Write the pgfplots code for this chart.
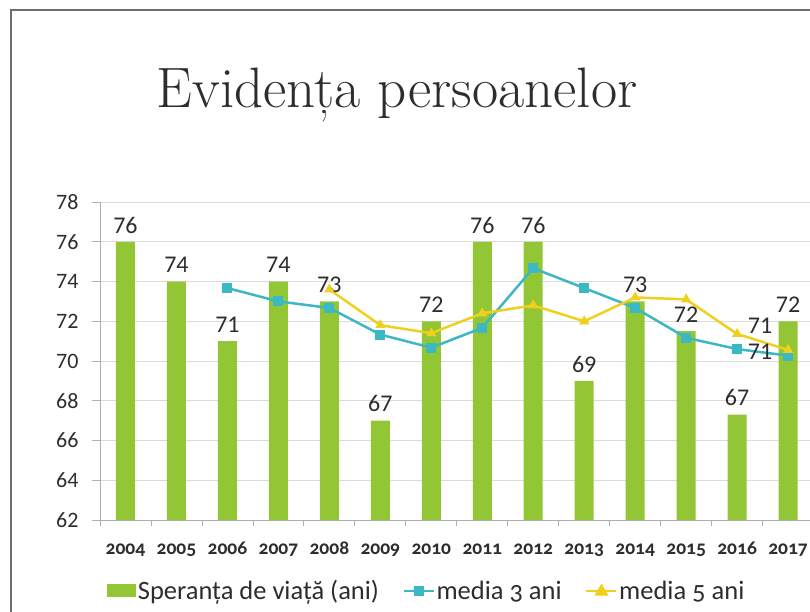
\documentclass[border=0pt]{standalone}
\usepackage{fontspec}
\usepackage{pgfplots}
\pgfplotsset{compat=1.18}
\usepackage{pgfplotstable}
\newfontfamily\cf{Carlito}
\newfontfamily\cfo{Carlito}[Numbers=OldStyle]
\definecolor{barG}{RGB}{146,198,52}
\definecolor{cyanL}{RGB}{60,184,196}
\definecolor{yelL}{RGB}{240,208,30}
\definecolor{gridG}{RGB}{218,218,218}
\definecolor{frameG}{RGB}{110,110,110}
\definecolor{txt}{RGB}{45,45,45}

\pgfplotstableread{
x val lab
0 76 76
1 74 74
2 71 71
3 74 74
4 73 73
5 67 67
6 72 72
7 76 76
8 76 76
9 69 69
10 73 73
11 71.5 72
12 67.3 67
13 72 72
}\bars

\begin{document}
\begin{tikzpicture}[x=1pt,y=1pt]
\useasboundingbox (0,0) rectangle (810,611);
\draw[line width=2pt, frameG] (11,-5) -- (11,601) -- (815,601);
\node[font=\rmfamily\fontsize{57}{60}\selectfont, anchor=base, text=txt] at (397,503) {Evidența persoanelor};
\begin{axis}[
  at={(100pt,91pt)}, anchor=south west, scale only axis,
  width=710pt, height=318pt,
  xmin=-0.5, xmax=13.43, ymin=62, ymax=78,
  ytick={62,64,...,78},
  xtick={0,...,13},
  xticklabels={2004,2005,2006,2007,2008,2009,2010,2011,2012,2013,2014,2015,2016,2017},
  minor xtick={-0.5,0.5,1.5,2.5,3.5,4.5,5.5,6.5,7.5,8.5,9.5,10.5,11.5,12.5},
  axis x line*=bottom, axis y line*=left,
  axis line style={draw=gridG!80!black, line width=0.8pt},
  x axis line style={-}, y axis line style={-},
  tick align=outside,
  major x tick style={draw=none},
  minor x tick style={draw=gridG!80!black, line width=0.8pt},
  minor tick length=6pt,
  major y tick style={draw=gridG!80!black, line width=0.8pt},
  major tick length=8pt,
  ymajorgrids, grid style={gridG, line width=0.8pt},
  /pgf/number format/assume math mode=true,
  yticklabel style={font=\cf\fontsize{22}{22}\selectfont, text=txt, xshift=-10pt},
  xticklabel style={font=\cfo\bfseries\fontsize{19.5}{20}\selectfont, text=txt, text height=13pt, text depth=4pt, yshift=-10pt},
  legend style={at={(0.46,-0.223)}, anchor=center, draw=none, fill=none,
    font=\cfo\fontsize{26.5}{27}\selectfont, text=txt,
    legend columns=3, /tikz/every even column/.append style={column sep=22pt}},
  clip=false,
]
\addplot[ybar, bar width=19pt, fill=barG, draw=none,
  nodes near coords, point meta=explicit symbolic,
  nodes near coords style={font=\cf\fontsize{24}{24}\selectfont, text=txt, anchor=south, yshift=5pt},
  legend image code/.code={\fill[barG] (0pt,-6pt) rectangle (29pt,7pt);}]
  table[x=x, y=val, meta=lab]{\bars};
\addlegendentry{Speranța de viață (ani)}
\addplot[color=cyanL, line width=2.5pt, mark=square*, mark size=4.5pt, mark options={fill=cyanL, line width=1pt},
  legend image code/.code={\draw[cyanL, line width=1.5pt] (0pt,0pt) -- (30pt,0pt); \fill[cyanL] (11pt,-4pt) rectangle (19pt,4pt);}]
  coordinates {(2,73.67)(3,73)(4,72.67)(5,71.33)(6,70.67)(7,71.67)(8,74.67)(9,73.67)(10,72.67)(11,71.17)(12,70.6)(13,70.27)};
\addlegendentry{media 3 ani}
\addplot[color=yelL, line width=2.5pt, mark=triangle*, mark size=5pt, mark options={fill=yelL, line width=1pt},
  legend image code/.code={\draw[yelL, line width=1.5pt] (0pt,0pt) -- (30pt,0pt); \fill[yelL] (10pt,-3.5pt) -- (20pt,-3.5pt) -- (15pt,5pt) -- cycle;}]
  coordinates {(4,73.6)(5,71.8)(6,71.4)(7,72.4)(8,72.8)(9,72)(10,73.2)(11,73.1)(12,71.36)(13,70.56)};
\addlegendentry{media 5 ani}
\node[font=\cf\fontsize{24}{24}\selectfont, text=txt] at (axis cs:12.45,71.75) {71};
\node[font=\cf\fontsize{24}{24}\selectfont, text=txt] at (axis cs:12.45,70.45) {71};
\end{axis}
\end{tikzpicture}
\end{document}
